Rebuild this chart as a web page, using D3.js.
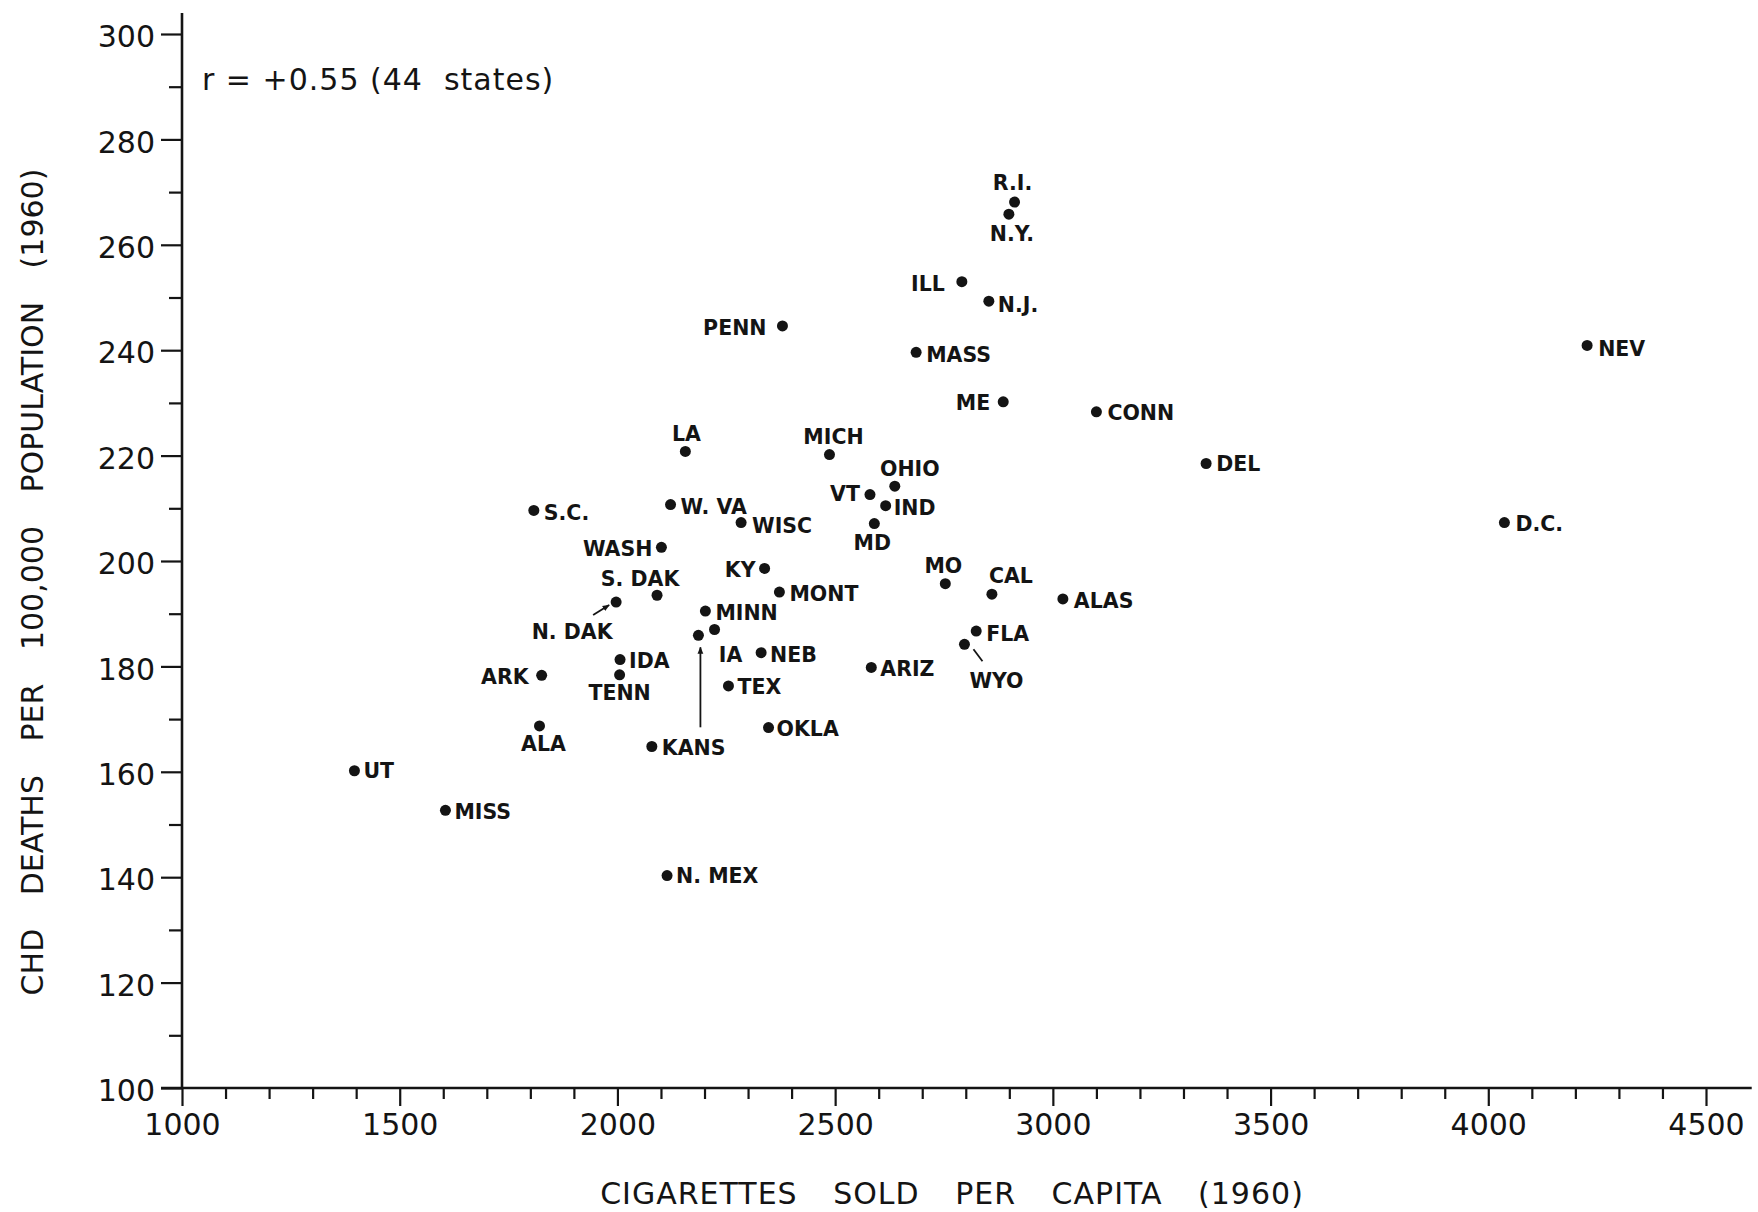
<!DOCTYPE html>
<html>
<head>
<meta charset="utf-8">
<script src="https://cdnjs.cloudflare.com/ajax/libs/d3/7.8.5/d3.min.js"></script>
<style>
body { margin: 0; background: #fff; }
svg { display: block; }
</style>
</head>
<body>
<script>
// state abbreviations as printed, '' = dot with no label of its own
var states = ['R.I.', 'N.Y.', 'ILL', 'N.J.', 'PENN', 'MASS', 'NEV', 'ME', 'CONN',
  'LA', 'MICH', 'DEL', 'OHIO', 'VT', 'IND', 'S.C.', 'W. VA', 'WISC', 'MD', 'D.C.',
  'WASH', 'KY', 'MO', 'MONT', 'CAL', 'S. DAK', 'ALAS', 'N. DAK', 'MINN', 'IA',
  'KANS', '', 'NEB', 'FLA', 'WYO', 'IDA', 'ARIZ', 'TENN', 'ARK', 'TEX', 'ALA',
  'OKLA', 'UT', 'MISS', 'N. MEX'];

// cigarettes sold per capita (1960)
var cigarettes = [2912, 2899, 2791, 2853, 2379, 2686, 4227, 2886, 3100,
  2156, 2487, 3352, 2637, 2580, 2616, 1808, 2122, 2284, 2590, 4037,
  2101, 2338, 2753, 2372, 2860, 2091, 3023, 1997, 2202, 2223,
  2079, 2186, 2330, 2824, 2797, 2006, 2583, 2005, 1826, 2255, 1821,
  2347, 1396, 1605, 2114];

// chd deaths per 100,000 population (1960)
var chdDeaths = [268.1, 265.8, 253.0, 249.3, 244.6, 239.6, 240.9, 230.2, 228.3,
  220.8, 220.2, 218.5, 214.2, 212.6, 210.5, 209.6, 210.7, 207.3, 207.1, 207.3,
  202.6, 198.6, 195.7, 194.1, 193.7, 193.5, 192.8, 192.2, 190.5, 187.0,
  164.8, 185.9, 182.6, 186.7, 184.2, 181.3, 179.8, 178.4, 178.3, 176.3, 168.7,
  168.4, 160.2, 152.7, 140.3];

var xTicks = [1000, 1500, 2000, 2500, 3000, 3500, 4000, 4500];
var yTicks = [100, 120, 140, 160, 180, 200, 220, 240, 260, 280, 300];

// where each label sits next to its dot: anchor, dx, dy (centre of text)
var labelPos = {
  'R.I.': ['middle', -2, -20], 'N.Y.': ['middle', 3, 19], 'ILL': ['end', -17, 2],
  'N.J.': ['start', 9, 3], 'PENN': ['end', -16, 2], 'MASS': ['start', 10, 2],
  'NEV': ['start', 11, 3], 'ME': ['end', -13, 1], 'CONN': ['start', 11, 1],
  'LA': ['middle', 1, -18], 'MICH': ['middle', 4, -18], 'DEL': ['start', 10, 0],
  'OHIO': ['middle', 15, -18], 'VT': ['end', -10, -1], 'IND': ['start', 8, 2],
  'S.C.': ['start', 10, 2], 'W. VA': ['start', 10, 2], 'WISC': ['start', 11, 3],
  'MD': ['middle', -2, 19], 'D.C.': ['start', 11, 1], 'WASH': ['end', -9, 1],
  'KY': ['end', -9, 1], 'MO': ['middle', -2, -18], 'MONT': ['start', 10, 1],
  'CAL': ['middle', 19, -19], 'S. DAK': ['middle', -17, -17], 'ALAS': ['start', 11, 2],
  'N. DAK': ['middle', -44, 29], 'MINN': ['start', 10, 1], 'IA': ['middle', 16, 25],
  'KANS': ['start', 10, 1], 'NEB': ['start', 9, 2], 'FLA': ['start', 10, 2],
  'WYO': ['middle', 32, 36], 'IDA': ['start', 9, 1], 'ARIZ': ['start', 9, 1],
  'TENN': ['middle', 0, 18], 'ARK': ['end', -13, 1], 'TEX': ['start', 9, 1],
  'ALA': ['middle', 4, 18], 'OKLA': ['start', 8, 1], 'UT': ['start', 9, 0],
  'MISS': ['start', 9, 1], 'N. MEX': ['start', 9, 0]
};

var width = 1758;
var height = 1212;
var font = '"DejaVu Sans", sans-serif';
var ink = '#141414';

var svg = d3.select('body')
            .append('svg')
            .attr('width', width)
            .attr('height', height)
            .style('background', '#fff');

var x = d3.scaleLinear().domain([1000, 4500]).range([182, 1706]);
var y = d3.scaleLinear().domain([100, 300]).range([1088, 34]);

// y axis, major + minor ticks
var yAxis = svg.append('g')
  .attr('transform', 'translate(' + x(1000) + ',0)')
  .call(d3.axisLeft(y).tickValues(yTicks).tickSize(21).tickPadding(6).tickFormat(d3.format('d')));
yAxis.select('.domain').remove();

var yMinor = svg.append('g')
  .attr('transform', 'translate(' + x(1000) + ',0)')
  .call(d3.axisLeft(y).tickValues(d3.range(110, 300, 20)).tickSize(13).tickFormat(''));
yMinor.select('.domain').remove();

// x axis, major + minor ticks
var xAxis = svg.append('g')
  .attr('transform', 'translate(0,' + y(100) + ')')
  .call(d3.axisBottom(x).tickValues(xTicks).tickSize(18).tickPadding(8).tickFormat(d3.format('d')));
xAxis.select('.domain').remove();

var xMinor = svg.append('g')
  .attr('transform', 'translate(0,' + y(100) + ')')
  .call(d3.axisBottom(x).tickValues(d3.range(1100, 4600, 100).filter(function(d) {
    return d % 500 !== 0;
  })).tickSize(11).tickFormat(''));
xMinor.select('.domain').remove();

svg.selectAll('.tick line').attr('stroke', ink).attr('stroke-width', 2.2);
svg.selectAll('.tick text')
  .attr('fill', ink)
  .style('font-family', font)
  .style('font-size', '30px');
yAxis.selectAll('.tick text').attr('dy', '0.42em');

// axis lines
svg.append('line')
  .attr('x1', x(1000)).attr('x2', x(1000))
  .attr('y1', y(304)).attr('y2', y(100))
  .attr('stroke', ink).attr('stroke-width', 2.6);
svg.append('line')
  .attr('x1', x(1000) - 21).attr('x2', x(4605))
  .attr('y1', y(100)).attr('y2', y(100))
  .attr('stroke', ink).attr('stroke-width', 2.4);

// axis titles
svg.append('text')
  .attr('transform', 'translate(43,582) rotate(-90)')
  .attr('text-anchor', 'middle')
  .attr('fill', ink)
  .style('font-family', font)
  .style('font-size', '30px')
  .style('word-spacing', '24px')
  .text('CHD DEATHS PER 100,000 POPULATION (1960)');

svg.append('text')
  .attr('x', 952)
  .attr('y', 1204)
  .attr('text-anchor', 'middle')
  .attr('fill', ink)
  .style('font-family', font)
  .style('font-size', '30px')
  .style('letter-spacing', '1px')
  .style('word-spacing', '25px')
  .text('CIGARETTES SOLD PER CAPITA (1960)');

svg.append('text')
  .attr('x', 202)
  .attr('y', 90)
  .attr('fill', ink)
  .style('font-family', font)
  .style('font-size', '30px')
  .style('letter-spacing', '1px')
  .attr('xml:space', 'preserve')
  .text('r = +0.55 (44  states)');

var data = states.map(function(s, i) {
  return {'id': i, 'name': s, 'cx': cigarettes[i], 'cy': chdDeaths[i]};
});

// dots
svg.selectAll('circle.pt')
  .data(data, function(d) { return d.id; })
  .enter()
  .append('circle')
  .attr('class', 'pt')
  .attr('cx', function(d) { return x(d.cx); })
  .attr('cy', function(d) { return y(d.cy); })
  .attr('r', 5.5)
  .attr('fill', ink);

// labels
svg.selectAll('text.lbl')
  .data(data.filter(function(d) { return d.name !== ''; }))
  .enter()
  .append('text')
  .attr('class', 'lbl')
  .attr('x', function(d) { return x(d.cx) + labelPos[d.name][1]; })
  .attr('y', function(d) { return y(d.cy) + labelPos[d.name][2] + 7.5; })
  .attr('text-anchor', function(d) { return labelPos[d.name][0]; })
  .attr('fill', ink)
  .style('font-family', font)
  .style('font-weight', 'bold')
  .style('font-size', '20.5px')
  .text(function(d) { return d.name; });

// leader lines: [state index, x1, y1, x2, y2] offsets from the dot, head at the dot end
var leaders = [
  [states.indexOf('N. DAK'), -23, 13, -7, 3, true],
  [states.indexOf('WYO'), 18, 17, 9, 5, false],
  [states.indexOf(''), 2, 92, 2, 12, true]
];

svg.append('defs').append('marker')
  .attr('id', 'head')
  .attr('viewBox', '0 0 10 10')
  .attr('refX', 9).attr('refY', 5)
  .attr('markerWidth', 4).attr('markerHeight', 4)
  .attr('orient', 'auto')
  .append('path')
  .attr('d', 'M0,1 L10,5 L0,9 Z')
  .attr('fill', ink);

svg.selectAll('line.leader')
  .data(leaders)
  .enter()
  .append('line')
  .attr('class', 'leader')
  .attr('x1', function(d) { return x(data[d[0]].cx) + d[1]; })
  .attr('y1', function(d) { return y(data[d[0]].cy) + d[2]; })
  .attr('x2', function(d) { return x(data[d[0]].cx) + d[3]; })
  .attr('y2', function(d) { return y(data[d[0]].cy) + d[4]; })
  .attr('stroke', ink)
  .attr('stroke-width', 1.8)
  .attr('marker-end', function(d) { return d[5] ? 'url(#head)' : null; });
</script>
</body>
</html>
